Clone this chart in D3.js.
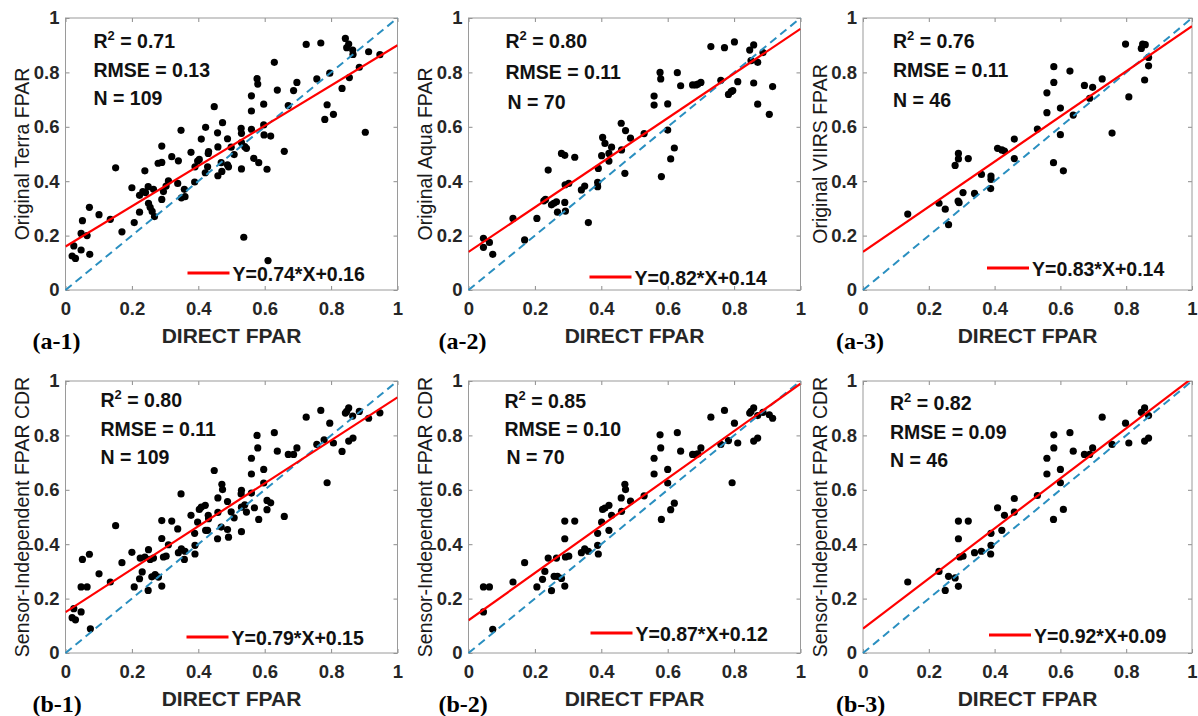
<!DOCTYPE html>
<html>
<head>
<meta charset="utf-8">
<script src="https://cdn.jsdelivr.net/npm/d3@7"></script>
<style>
  body { margin: 0; background: #fff; }
  svg { display: block; }
</style>
</head>
<body>
<svg></svg>
<script>
// ---- data (DIRECT FPAR on x, product FPAR on y) ----
const origTerraX = [0.020,0.030,0.025,0.047,0.047,0.065,0.051,0.072,0.073,0.101,
  0.135,0.151,0.170,0.200,0.207,0.223,0.223,0.239,0.233,0.241,
  0.249,0.250,0.255,0.261,0.268,0.265,0.279,0.290,0.290,0.290,
  0.295,0.303,0.310,0.320,0.338,0.340,0.348,0.349,0.360,0.358,
  0.378,0.389,0.390,0.398,0.403,0.409,0.422,0.421,0.428,0.430,
  0.431,0.448,0.458,0.459,0.459,0.471,0.473,0.469,0.488,0.488,
  0.491,0.499,0.508,0.529,0.530,0.530,0.530,0.540,0.537,0.545,
  0.560,0.560,0.560,0.567,0.577,0.579,0.582,0.597,0.597,0.598,
  0.607,0.610,0.618,0.629,0.638,0.659,0.671,0.687,0.697,0.725,
  0.757,0.769,0.781,0.788,0.796,0.807,0.833,0.843,0.847,0.853,
  0.855,0.865,0.866,0.885,0.903,0.913,0.947];
const origTerraY = [0.125,0.116,0.162,0.147,0.208,0.200,0.255,0.304,0.131,0.277,
  0.260,0.449,0.214,0.376,0.248,0.286,0.348,0.438,0.362,0.358,
  0.380,0.319,0.304,0.289,0.270,0.370,0.466,0.469,0.529,0.333,
  0.362,0.382,0.401,0.490,0.392,0.475,0.587,0.339,0.343,0.370,
  0.506,0.397,0.453,0.474,0.480,0.555,0.598,0.431,0.453,0.502,
  0.509,0.674,0.578,0.420,0.526,0.436,0.615,0.468,0.556,0.460,
  0.453,0.525,0.498,0.594,0.576,0.542,0.445,0.527,0.194,0.521,
  0.591,0.714,0.658,0.484,0.777,0.757,0.468,0.683,0.607,0.570,
  0.444,0.108,0.566,0.837,0.735,0.510,0.678,0.733,0.763,0.903,
  0.776,0.908,0.627,0.681,0.797,0.646,0.741,0.925,0.891,0.904,
  0.781,0.882,0.866,0.819,0.580,0.876,0.865];

const origAquaX = [0.045,0.045,0.063,0.073,0.134,0.169,0.206,0.227,0.232,0.240,
  0.250,0.257,0.265,0.268,0.280,0.290,0.290,0.292,0.291,0.302,
  0.320,0.340,0.350,0.361,0.389,0.389,0.391,0.401,0.404,0.411,
  0.423,0.423,0.431,0.461,0.460,0.471,0.473,0.488,0.529,0.559,
  0.559,0.577,0.579,0.581,0.600,0.600,0.609,0.620,0.629,0.639,
  0.675,0.685,0.691,0.700,0.730,0.760,0.771,0.783,0.791,0.796,
  0.801,0.811,0.847,0.851,0.859,0.859,0.871,0.871,0.887,0.906,
  0.916];
const origAquaY = [0.190,0.157,0.175,0.131,0.263,0.184,0.263,0.328,0.333,0.441,
  0.313,0.319,0.324,0.286,0.502,0.495,0.322,0.290,0.387,0.392,
  0.488,0.368,0.382,0.248,0.380,0.396,0.447,0.494,0.561,0.539,
  0.474,0.502,0.525,0.515,0.613,0.429,0.586,0.558,0.575,0.713,
  0.680,0.800,0.776,0.417,0.684,0.588,0.482,0.522,0.799,0.751,
  0.754,0.754,0.757,0.763,0.895,0.771,0.891,0.719,0.729,0.733,
  0.912,0.766,0.882,0.843,0.901,0.761,0.837,0.683,0.873,0.646,
  0.748];

const origViirsX = [0.136,0.231,0.250,0.260,0.280,0.290,0.290,0.289,0.292,0.304,
  0.320,0.339,0.360,0.388,0.389,0.389,0.409,0.422,0.430,0.460,
  0.460,0.530,0.559,0.559,0.579,0.580,0.580,0.600,0.600,0.609,
  0.629,0.639,0.673,0.689,0.698,0.727,0.757,0.798,0.808,0.846,
  0.850,0.858,0.856,0.868,0.868];
const origViirsY = [0.279,0.319,0.297,0.240,0.458,0.482,0.502,0.327,0.321,0.358,
  0.483,0.355,0.425,0.373,0.419,0.407,0.521,0.515,0.511,0.555,
  0.483,0.592,0.725,0.652,0.468,0.763,0.821,0.669,0.571,0.438,
  0.805,0.643,0.752,0.705,0.745,0.776,0.577,0.904,0.710,0.888,
  0.904,0.902,0.772,0.855,0.824];

const cdrTerraX = [0.020,0.030,0.025,0.047,0.051,0.047,0.065,0.072,0.075,0.101,
  0.135,0.151,0.170,0.200,0.207,0.223,0.225,0.231,0.239,0.250,
  0.249,0.255,0.260,0.265,0.270,0.280,0.290,0.290,0.290,0.295,
  0.303,0.310,0.320,0.338,0.340,0.348,0.349,0.360,0.358,0.378,
  0.389,0.390,0.390,0.398,0.403,0.409,0.421,0.422,0.428,0.430,
  0.431,0.448,0.458,0.459,0.459,0.471,0.473,0.469,0.488,0.488,
  0.491,0.499,0.508,0.529,0.530,0.530,0.530,0.540,0.545,0.560,
  0.560,0.560,0.569,0.577,0.579,0.582,0.597,0.597,0.607,0.607,
  0.618,0.629,0.638,0.659,0.671,0.687,0.697,0.725,0.757,0.769,
  0.779,0.788,0.796,0.807,0.833,0.843,0.847,0.853,0.853,0.865,
  0.866,0.885,0.913,0.947];
const cdrTerraY = [0.130,0.122,0.163,0.151,0.344,0.243,0.243,0.363,0.089,0.291,
  0.261,0.468,0.332,0.370,0.243,0.273,0.349,0.298,0.353,0.380,
  0.230,0.344,0.280,0.349,0.288,0.279,0.421,0.487,0.246,0.353,
  0.356,0.398,0.485,0.456,0.369,0.585,0.383,0.374,0.344,0.506,
  0.440,0.396,0.364,0.481,0.528,0.536,0.543,0.451,0.451,0.506,
  0.494,0.671,0.420,0.570,0.517,0.620,0.601,0.463,0.557,0.454,
  0.426,0.519,0.497,0.585,0.598,0.536,0.446,0.545,0.518,0.716,
  0.658,0.588,0.534,0.800,0.754,0.491,0.675,0.625,0.561,0.527,
  0.552,0.810,0.742,0.502,0.730,0.730,0.754,0.867,0.767,0.892,
  0.784,0.626,0.845,0.772,0.741,0.882,0.888,0.901,0.779,0.871,
  0.790,0.888,0.863,0.883];

const cdrAquaX = [0.045,0.063,0.045,0.073,0.134,0.169,0.206,0.223,0.230,0.240,
  0.250,0.258,0.265,0.268,0.280,0.290,0.290,0.290,0.292,0.302,
  0.320,0.340,0.350,0.361,0.389,0.389,0.391,0.401,0.404,0.411,
  0.423,0.423,0.431,0.461,0.460,0.471,0.473,0.488,0.529,0.559,
  0.559,0.577,0.579,0.581,0.600,0.600,0.609,0.620,0.629,0.639,
  0.675,0.685,0.691,0.700,0.730,0.760,0.771,0.783,0.794,0.801,
  0.811,0.847,0.851,0.859,0.859,0.871,0.871,0.887,0.906,0.916];
const cdrAquaY = [0.243,0.243,0.151,0.087,0.261,0.332,0.243,0.271,0.300,0.349,
  0.229,0.282,0.349,0.282,0.274,0.485,0.420,0.246,0.353,0.356,
  0.485,0.369,0.383,0.374,0.440,0.396,0.364,0.481,0.528,0.533,
  0.451,0.543,0.506,0.521,0.570,0.620,0.601,0.558,0.578,0.716,
  0.658,0.802,0.754,0.491,0.675,0.625,0.527,0.551,0.810,0.742,
  0.730,0.730,0.732,0.754,0.867,0.767,0.892,0.781,0.626,0.845,
  0.772,0.882,0.888,0.901,0.779,0.790,0.873,0.885,0.876,0.863];

const cdrViirsX = [0.136,0.231,0.250,0.260,0.280,0.290,0.290,0.290,0.294,0.304,
  0.320,0.339,0.360,0.388,0.389,0.389,0.409,0.422,0.430,0.460,
  0.460,0.530,0.559,0.559,0.579,0.580,0.580,0.600,0.600,0.609,
  0.629,0.639,0.673,0.689,0.698,0.727,0.757,0.798,0.808,0.846,
  0.856,0.856,0.868,0.868];
const cdrViirsY = [0.261,0.300,0.230,0.282,0.276,0.245,0.420,0.485,0.353,0.356,
  0.485,0.369,0.374,0.364,0.396,0.440,0.534,0.451,0.506,0.568,
  0.518,0.579,0.716,0.658,0.491,0.754,0.802,0.675,0.626,0.528,
  0.810,0.742,0.730,0.730,0.754,0.867,0.767,0.845,0.772,0.885,
  0.901,0.779,0.790,0.873];

// panel texts and fit statistics
const panelTags = ["(a-1)", "(a-2)", "(a-3)", "(b-1)", "(b-2)", "(b-3)"];
const yLabels = ["Original Terra FPAR", "Original Aqua FPAR", "Original VIIRS FPAR",
  "Sensor-Independent FPAR CDR", "Sensor-Independent FPAR CDR", "Sensor-Independent FPAR CDR"];
const r2Values = ["0.71", "0.80", "0.76", "0.80", "0.85", "0.82"];
const rmseValues = ["0.13", "0.11", "0.11", "0.11", "0.10", "0.09"];
const nValues = [109, 70, 46, 109, 70, 46];
const slopes = [0.74, 0.82, 0.83, 0.79, 0.87, 0.92];
const intercepts = [0.16, 0.14, 0.14, 0.15, 0.12, 0.09];
const tickValues = [0, 0.2, 0.4, 0.6, 0.8, 1];

const seriesX = [origTerraX, origAquaX, origViirsX, cdrTerraX, cdrAquaX, cdrViirsX];
const seriesY = [origTerraY, origAquaY, origViirsY, cdrTerraY, cdrAquaY, cdrViirsY];

// ---- layout ----
const colLeft = [65.5, 468.5, 863],
      colWidth = [332, 332, 329],   // last column pulled in a little so its "1" stays on the page
      rowTop = [18, 381],
      H = 272;

// small per-panel placement tweaks [stats dx, stats first baseline, line gap] and [legend dx, legend up]
const statsPos = [[28, 30, 28.5], [37, 30, 30.5], [30, 29.5, 29.5], [35, 26, 28.5], [36, 27, 28], [27, 29, 28.5]];
const legendPos = [[122, 17], [121, 13], [124, 22], [121, 16], [122, 20], [126, 18]];

const SANS = "Arial, 'Liberation Sans', sans-serif";
const SERIF = "'Times New Roman', 'Liberation Serif', serif";

const svg = d3.select("svg").attr("width", 1198).attr("height", 716);

panelTags.forEach((tag, i) => {
  const col = i % 3;
  const left = colLeft[col], top = rowTop[Math.floor(i / 3)], W = colWidth[col];
  const pts = d3.zip(seriesX[i], seriesY[i]);

  const x = d3.scaleLinear().domain([0, 1]).range([0, W]);
  const y = d3.scaleLinear().domain([0, 1]).range([H, 0]);

  const g = svg.append("g").attr("transform", `translate(${left},${top})`);

  g.append("clipPath").attr("id", "clip" + i)
    .append("rect").attr("width", W).attr("height", H);

  // axes with inward ticks on all four sides
  const fmt = d3.format("~g");
  const bottom = g.append("g").attr("transform", `translate(0,${H})`)
    .call(d3.axisBottom(x).tickValues(tickValues).tickFormat(fmt).tickSize(-4).tickPadding(12));
  const leftAx = g.append("g")
    .call(d3.axisLeft(y).tickValues(tickValues).tickFormat(fmt).tickSize(-4).tickPadding(6));
  const topAx = g.append("g")
    .call(d3.axisTop(x).tickValues(tickValues).tickFormat("").tickSize(-4));
  const rightAx = g.append("g").attr("transform", `translate(${W},0)`)
    .call(d3.axisRight(y).tickValues(tickValues).tickFormat("").tickSize(-4));

  [bottom, leftAx, topAx, rightAx].forEach(a => {
    a.select(".domain").remove();
    a.selectAll("line").attr("stroke", "#8c8c8c");
    a.selectAll("text")
      .attr("font-family", SANS).attr("font-size", "18.5px")
      .attr("font-weight", "bold").attr("fill", "#262626");
  });

  g.append("rect").attr("width", W).attr("height", H)
    .attr("fill", "none").attr("stroke", "#9a9a9a").attr("stroke-width", 1);

  // points
  g.append("g").selectAll("circle")
    .data(pts)
    .enter()
    .append("circle")
    .attr("cx", d => x(d[0]))
    .attr("cy", d => y(d[1]))
    .attr("r", 3.6)
    .attr("fill", "#000");

  // 1:1 line
  g.append("line")
    .attr("x1", x(0)).attr("y1", y(0)).attr("x2", x(1)).attr("y2", y(1))
    .attr("stroke", "#2a8fc0").attr("stroke-width", 2)
    .attr("stroke-dasharray", "8,5");

  // regression line
  g.append("line")
    .attr("clip-path", `url(#clip${i})`)
    .attr("x1", x(0)).attr("y1", y(intercepts[i]))
    .attr("x2", x(1)).attr("y2", y(slopes[i] + intercepts[i]))
    .attr("stroke", "#ff0000").attr("stroke-width", 2.2);

  // stats text
  const [sx, sy, sg] = statsPos[i];
  const stats = g.append("g").attr("font-family", SANS).attr("font-weight", "bold")
    .attr("font-size", "19.5px").attr("fill", "#111");
  const r2 = stats.append("text").attr("x", sx).attr("y", sy);
  r2.append("tspan").text("R");
  r2.append("tspan").attr("dy", -8).attr("font-size", "13px").text("2");
  r2.append("tspan").attr("dy", 8).text(" = " + r2Values[i]);
  stats.append("text").attr("x", sx).attr("y", sy + sg).text("RMSE = " + rmseValues[i]);
  stats.append("text").attr("x", sx + (col === 1 ? 2 : 0)).attr("y", sy + 2 * sg).text("N = " + nValues[i]);

  // legend
  const [lx, ly] = legendPos[i];
  g.append("line")
    .attr("x1", lx).attr("x2", lx + 42)
    .attr("y1", H - ly).attr("y2", H - ly)
    .attr("stroke", "#ff0000").attr("stroke-width", 3);
  g.append("text")
    .attr("x", lx + 45).attr("y", H - ly + 7.5)
    .attr("font-family", SANS).attr("font-weight", "bold")
    .attr("font-size", "19.5px").attr("fill", "#111")
    .text(`Y=${slopes[i].toFixed(2)}*X+${intercepts[i].toFixed(2)}`);

  // axis titles
  g.append("text")
    .attr("x", W / 2).attr("y", H + 53)
    .attr("text-anchor", "middle")
    .attr("font-family", SANS).attr("font-weight", "bold")
    .attr("font-size", "21px").attr("fill", "#262626")
    .text("DIRECT FPAR");

  g.append("text")
    .attr("transform", `translate(-43,${H / 2}) rotate(-90)`)
    .attr("dy", "0.35em")
    .attr("text-anchor", "middle")
    .attr("font-family", SANS)
    .attr("font-size", "19.5px").attr("fill", "#1a1a1a")
    .text(yLabels[i]);

  // panel tag
  g.append("text")
    .attr("x", -33 + col * 3).attr("y", H + 59)
    .attr("font-family", SERIF).attr("font-weight", "bold")
    .attr("font-size", "24px").attr("fill", "#000")
    .text(tag);
});
</script>
</body>
</html>
